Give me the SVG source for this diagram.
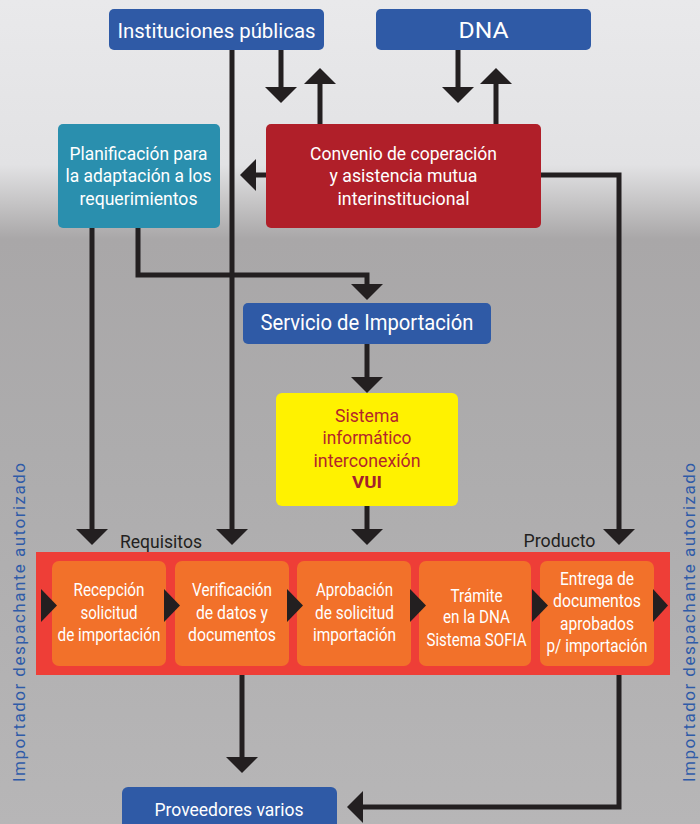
<svg xmlns="http://www.w3.org/2000/svg" width="700" height="824" viewBox="0 0 700 824">
<defs>
<linearGradient id="bg" x1="0" y1="0" x2="0" y2="1">
<stop offset="0" stop-color="#e9e9eb"/>
<stop offset="0.2" stop-color="#e2e2e4"/>
<stop offset="0.245" stop-color="#c6c5c6"/>
<stop offset="0.29" stop-color="#a9a7a8"/>
<stop offset="0.55" stop-color="#adacad"/>
<stop offset="1" stop-color="#b7b6b7"/>
</linearGradient>
<marker id="ah" markerUnits="userSpaceOnUse" viewBox="0 0 16 32" markerWidth="16" markerHeight="32" refX="0" refY="16" orient="auto">
<path d="M0,0 L16,16 L0,32 Z" fill="#231f20"/>
</marker>
<style>
text{font-family:Roboto,"Liberation Sans",sans-serif;text-anchor:middle}
.w{fill:#ffffff}
.blue{fill:#2f5aa6}
.con{fill:none;stroke:#231f20;stroke-width:5;stroke-linejoin:miter;marker-end:url(#ah)}
.tri{fill:#231f20}
.step{fill:#f2712a}
.t18{font-size:18px}
.p{font-size:18.5px;fill:#ffffff}
.side{font-size:17px;fill:#2f5ba8}
</style>
</defs>
<rect x="0" y="0" width="700" height="824" fill="url(#bg)"/>

<g id="side-left"><text class="side" transform="translate(25,622.5) rotate(-90)" textLength="319">Importador despachante autorizado</text></g>
<g id="side-right"><text class="side" transform="translate(695,622.5) rotate(-90)" textLength="319">Importador despachante autorizado</text></g>

<g id="band">
<rect x="36" y="552" width="634" height="123" fill="#ee3e37"/>
</g>

<g id="connectors">
<path class="con" d="M281,50 V87"/>
<path class="con" d="M320,124 V84"/>
<path class="con" d="M458,50 V87"/>
<path class="con" d="M496,124 V84"/>
<path class="con" d="M266,175 H256"/>
<path class="con" d="M541,175 H619 V529"/>
<path class="con" d="M92,228 V529"/>
<path class="con" d="M138,228 V275 H367 V284"/>
<path class="con" d="M232,50 V529"/>
<path class="con" d="M367,344 V377"/>
<path class="con" d="M367,506 V529"/>
<path class="con" d="M242,675 V757"/>
<path class="con" d="M619,675 V807 H363"/>
</g>

<g id="instituciones">
<rect x="109" y="9" width="215" height="41" rx="5" class="blue"/>
<text x="216.5" y="37.5" class="w" font-size="21" textLength="198" lengthAdjust="spacingAndGlyphs">Instituciones públicas</text>
</g>
<g id="dna">
<rect x="376" y="9" width="215" height="41" rx="5" class="blue"/>
<text x="483.5" y="38.3" class="w" font-size="22" textLength="50" lengthAdjust="spacingAndGlyphs">DNA</text>
</g>
<g id="planificacion">
<rect x="58" y="124" width="162" height="104" rx="5" fill="#2a8fae"/>
<text class="w t18" x="138.5" y="159.5" textLength="138" lengthAdjust="spacingAndGlyphs">Planificación para</text>
<text class="w t18" x="138.5" y="182" textLength="146" lengthAdjust="spacingAndGlyphs">la adaptación a los</text>
<text class="w t18" x="138.5" y="204.5" textLength="118" lengthAdjust="spacingAndGlyphs">requerimientos</text>
</g>
<g id="convenio">
<rect x="266" y="124" width="275" height="104" rx="5" fill="#b01f29"/>
<text class="w t18" x="403.5" y="159.5" textLength="187" lengthAdjust="spacingAndGlyphs">Convenio de coperación</text>
<text class="w t18" x="403.5" y="182" textLength="148" lengthAdjust="spacingAndGlyphs">y asistencia mutua</text>
<text class="w t18" x="403.5" y="204.5" textLength="132" lengthAdjust="spacingAndGlyphs">interinstitucional</text>
</g>
<g id="servicio">
<rect x="243" y="303" width="248" height="41" rx="5" class="blue"/>
<text x="367" y="330" class="w" font-size="22" textLength="213" lengthAdjust="spacingAndGlyphs">Servicio de Importación</text>
</g>
<g id="sistema">
<rect x="276" y="393" width="182" height="113" rx="6" fill="#fff200"/>
<text x="367" y="421.7" font-size="18.5" fill="#b3262b" textLength="64" lengthAdjust="spacingAndGlyphs">Sistema</text>
<text x="367" y="444" font-size="18.5" fill="#b3262b" textLength="89" lengthAdjust="spacingAndGlyphs">informático</text>
<text x="367" y="466.7" font-size="18.5" fill="#b3262b" textLength="107" lengthAdjust="spacingAndGlyphs">interconexión</text>
<text x="367" y="488.3" font-size="16" font-weight="bold" fill="#a3202d" textLength="30" lengthAdjust="spacingAndGlyphs">VUI</text>
</g>

<g id="labels">
<text class="t18" x="161" y="548" fill="#231f20" textLength="82" lengthAdjust="spacingAndGlyphs">Requisitos</text>
<text class="t18" x="559.5" y="547" fill="#231f20" textLength="72" lengthAdjust="spacingAndGlyphs">Producto</text>
</g>

<g id="recepcion">
<rect class="step" x="52" y="561" width="114" height="105" rx="7"/>
<text class="p" x="109" y="596" textLength="71" lengthAdjust="spacingAndGlyphs">Recepción</text>
<text class="p" x="109" y="618.5" textLength="57" lengthAdjust="spacingAndGlyphs">solicitud</text>
<text class="p" x="109" y="641" textLength="103" lengthAdjust="spacingAndGlyphs">de importación</text>
</g>
<g id="verificacion">
<rect class="step" x="175" y="561" width="114" height="105" rx="7"/>
<text class="p" x="232" y="596" textLength="80" lengthAdjust="spacingAndGlyphs">Verificación</text>
<text class="p" x="232" y="618.5" textLength="72" lengthAdjust="spacingAndGlyphs">de datos y</text>
<text class="p" x="232" y="641" textLength="88" lengthAdjust="spacingAndGlyphs">documentos</text>
</g>
<g id="aprobacion">
<rect class="step" x="297" y="561" width="114" height="105" rx="7"/>
<text class="p" x="354.5" y="596" textLength="77" lengthAdjust="spacingAndGlyphs">Aprobación</text>
<text class="p" x="354.5" y="618.5" textLength="79" lengthAdjust="spacingAndGlyphs">de solicitud</text>
<text class="p" x="354.5" y="641" textLength="83" lengthAdjust="spacingAndGlyphs">importación</text>
</g>
<g id="tramite">
<rect class="step" x="419" y="561" width="112" height="105" rx="7"/>
<text class="p" x="476.5" y="601.7" textLength="52" lengthAdjust="spacingAndGlyphs">Trámite</text>
<text class="p" x="476.5" y="623" textLength="67" lengthAdjust="spacingAndGlyphs">en la DNA</text>
<text class="p" x="476.5" y="645.7" textLength="100" lengthAdjust="spacingAndGlyphs">Sistema SOFIA</text>
</g>
<g id="entrega">
<rect class="step" x="540" y="561" width="114" height="105" rx="7"/>
<text class="p" x="597" y="585" textLength="74" lengthAdjust="spacingAndGlyphs">Entrega de</text>
<text class="p" x="597" y="607.3" textLength="88" lengthAdjust="spacingAndGlyphs">documentos</text>
<text class="p" x="597" y="630" textLength="74" lengthAdjust="spacingAndGlyphs">aprobados</text>
<text class="p" x="597" y="652.3" textLength="101" lengthAdjust="spacingAndGlyphs">p/ importación</text>
</g>

<g id="flow-arrows">
<polygon class="tri" points="41,589 57,605.5 41,622"/>
<polygon class="tri" points="164,589 180,605.5 164,622"/>
<polygon class="tri" points="287,589 303,605.5 287,622"/>
<polygon class="tri" points="410,589 426,605.5 410,622"/>
<polygon class="tri" points="532,589 548,605.5 532,622"/>
<polygon class="tri" points="653,589 668,605.5 653,622"/>
</g>

<g id="proveedores">
<rect x="122" y="787" width="215" height="50" rx="6" class="blue"/>
<text x="229" y="815.7" class="w" font-size="19" textLength="149" lengthAdjust="spacingAndGlyphs">Proveedores varios</text>
</g>
</svg>
